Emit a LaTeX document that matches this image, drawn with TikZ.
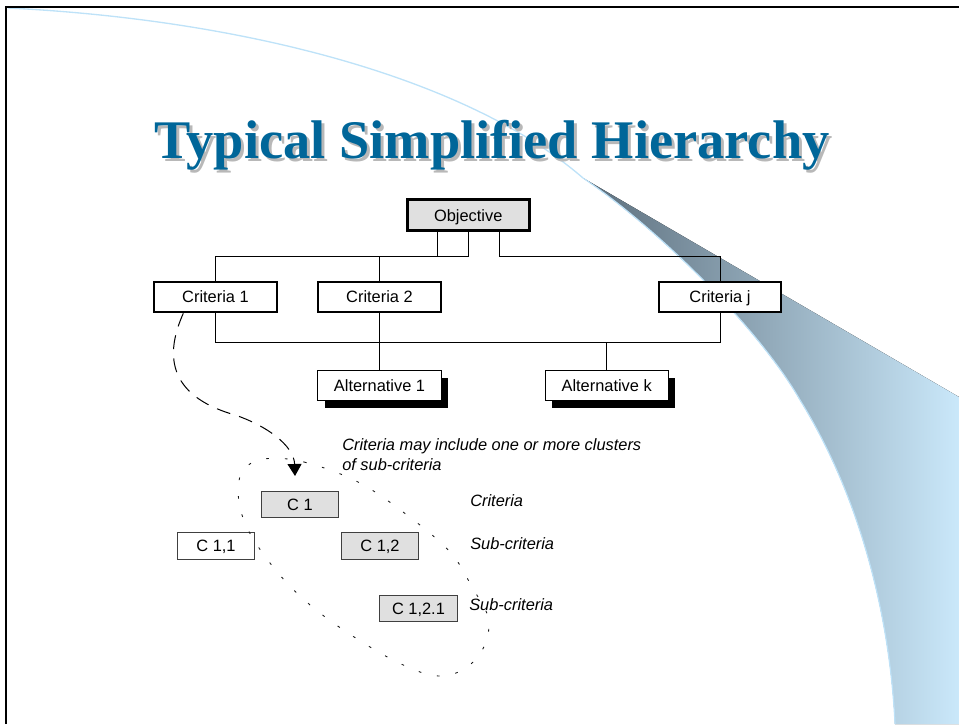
\documentclass[tikz,border=0pt]{standalone}
\usepackage{fontspec}
\setmainfont{Liberation Sans}
\newfontfamily\titlefont{Liberation Serif}
\usetikzlibrary{arrows.meta,shadows,calc}

\definecolor{titleblue}{RGB}{0,102,153}
\definecolor{titleshade}{RGB}{184,184,184}
\definecolor{swdark}{RGB}{92,110,124}
\definecolor{swmid}{RGB}{172,204,224}
\definecolor{swlight}{RGB}{202,232,250}
\definecolor{swline}{RGB}{190,226,248}
\definecolor{boxgray}{RGB}{224,224,224}

% title text with a soft offset shadow behind it
\newcommand{\shadowtitle}[1]{%
  \rlap{\kern2.25pt\raisebox{-2.25pt}{\textcolor{titleshade}{#1}}}%
  \textcolor{titleblue}{#1}}

\begin{document}
\begin{tikzpicture}[x=0.75pt,y=-0.75pt,
  lbl/.style={font=\fontsize{12.3}{14.8}\selectfont, inner sep=0pt,
              text height=8.8pt, text depth=0pt},
  objbox/.style={lbl, draw, line width=2.25pt, fill=boxgray,
                 minimum width=91.5pt, minimum height=23pt},
  critbox/.style={lbl, draw, line width=1.5pt, fill=white,
                  minimum width=91.8pt, minimum height=23pt},
  altbox/.style={lbl, draw, line width=0.75pt, fill=white,
                 minimum width=92.5pt, minimum height=22.3pt,
                 drop shadow={shadow xshift=5pt, shadow yshift=-5.6pt,
                              fill=black, opacity=1}},
  subbox/.style={lbl, draw=black!75, line width=0.75pt, fill=boxgray,
                 minimum width=58pt, minimum height=20pt},
  subboxw/.style={subbox, fill=white},
  note/.style={font=\fontsize{12.3}{14.8}\selectfont\itshape, inner sep=0pt},
  link/.style={line width=0.75pt},
  dasharrow/.style={line width=0.75pt, dash pattern=on 10.5pt off 7pt,
                    -{Triangle[width=10.5pt,length=9pt]}},
  dotloop/.style={draw=black!90, line width=0.65pt, dash pattern=on 2pt off 12pt},
  titletext/.style={font=\titlefont\bfseries\fontsize{40.8}{48}\selectfont,
                    inner sep=0pt, anchor=base}
]
\useasboundingbox (0,0) rectangle (959,724);

% decorative swoosh: thin line widening into a shaded wedge
\fill[left color=swdark, middle color=swmid, right color=swlight]
  (583,178) -- (959,397) -- (959,724) -- (895,724)
  .. controls (890,620) and (862,500) .. (800,400)
  .. controls (760,330) and (660,230) .. (583,178) -- cycle;
\draw[swline, line width=0.9pt]
  (895,724) .. controls (890,620) and (862,500) .. (800,400)
  .. controls (760,330) and (660,230) .. (583,178);
\draw[swline, line width=1pt]
  (8,8) .. controls (250,20) and (470,80) .. (583,178);

% slide frame
\draw[line width=1.5pt] (6,724) -- (6,7) -- (959,7);

% title
\node[titletext] (title) at (492,158) {\shadowtitle{Typical Simplified Hierarchy}};

% hierarchy nodes
\node[objbox]  (obj)   at (468.2,215.2) {Objective};
\node[critbox] (crit1) at (215.5,297) {Criteria 1};
\node[critbox] (crit2) at (379.5,297) {Criteria 2};
\node[critbox] (critj) at (720,297)   {Criteria j};
\node[altbox]  (alt1)  at (379.5,385.3) {Alternative 1};
\node[altbox]  (altk)  at (606.7,385.3) {Alternative k};

% connectors
\coordinate (topbus) at (0,256);
\coordinate (lowbus) at (0,342);
\coordinate (s1) at ([xshift=-22.9pt]obj.south);
\coordinate (s2) at (obj.south);
\coordinate (s3) at ([xshift=23.2pt]obj.south);
\draw[link] (s1) -- (s1 |- topbus) -| (crit1.north);
\draw[link] (s2) -- (s2 |- topbus) -| (crit2.north);
\draw[link] (s3) -- (s3 |- topbus) -| (critj.north);
\foreach \c in {crit1,crit2,critj}
  \foreach \a in {alt1,altk}
    \draw[link] (\c.south) -- (\c.south |- lowbus) -| (\a.north);

% sub-criteria cluster
\node[subbox]  (cc1)   at (300,504.5) {C 1};
\node[subboxw] (cc11)  at (216,546)   {C 1,1};
\node[subbox]  (cc12)  at (380,546)   {C 1,2};
\node[subbox]  (cc121) at (418.5,608.5) {C 1,2.1};

\node[note, anchor=base west] (note1) at (342,450) {Criteria may include one or more clusters};
\node[note, anchor=base west] (note2) at (342,470.5) {of sub-criteria};
\node[note, anchor=base west] (lvl1) at (470,506) {Criteria};
\node[note, anchor=base west] (lvl2) at (470,549) {Sub-criteria};
\node[note, anchor=base west] (lvl3) at (469,610.7) {Sub-criteria};

\draw[dotloop] plot[smooth cycle, tension=0.6] coordinates {
  (264,459) (304,462) (358,482) (407,515) (450,552) (472,587) (489,622)
  (477,658) (443,676) (397,662) (332,622) (287,583) (252,537) (239,502) (242,472)};

% dashed arrow from Criteria 1 down to the cluster
\coordinate (arrstart) at ([xshift=22.5pt]crit1.south west);
\coordinate (tip) at ([xshift=-3.75pt,yshift=11pt]cc1.north);
\draw[dasharrow] (arrstart) .. controls (166,352) and (165,395) .. (235,415)
  .. controls (265,425) and (294,445) .. (tip);
\end{tikzpicture}
\end{document}
